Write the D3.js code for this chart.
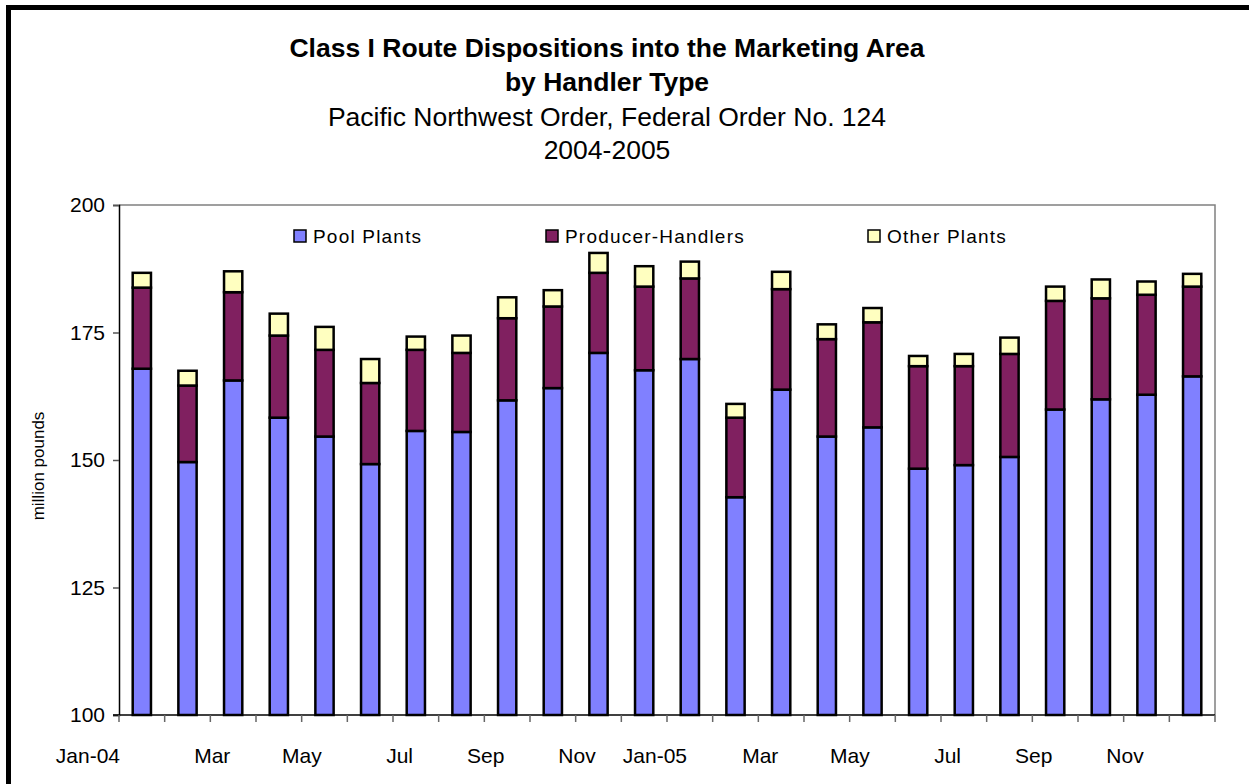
<!DOCTYPE html>
<html>
<head>
<meta charset="utf-8">
<script src="https://cdn.jsdelivr.net/npm/d3@7"></script>
<style>
  body { margin: 0; background: #fff; }
  text { font-family: "Liberation Sans", Arial, sans-serif; }
</style>
</head>
<body>
<script>
const months = ['Jan-04', 'Feb-04', 'Mar-04', 'Apr-04', 'May-04', 'Jun-04',
  'Jul-04', 'Aug-04', 'Sep-04', 'Oct-04', 'Nov-04', 'Dec-04',
  'Jan-05', 'Feb-05', 'Mar-05', 'Apr-05', 'May-05', 'Jun-05',
  'Jul-05', 'Aug-05', 'Sep-05', 'Oct-05', 'Nov-05', 'Dec-05']
const monthLabels = ['Jan-04', '', 'Mar', '', 'May', '', 'Jul', '', 'Sep', '', 'Nov', '',
  'Jan-05', '', 'Mar', '', 'May', '', 'Jul', '', 'Sep', '', 'Nov', '']
const poolPlants = [167.9, 149.6, 165.6, 158.3, 154.6, 149.2, 155.7, 155.5, 161.7, 164.1, 171.0, 167.6,
  169.8, 142.7, 163.8, 154.6, 156.4, 148.3, 149.0, 150.6, 159.9, 161.9, 162.8, 166.4]
const producerHandlers = [15.9, 15.0, 17.3, 16.1, 17.0, 15.9, 15.9, 15.5, 16.1, 16.0, 15.7, 16.4,
  15.8, 15.6, 19.7, 19.1, 20.6, 20.1, 19.4, 20.2, 21.3, 19.8, 19.6, 17.6]
const otherPlants = [2.9, 2.9, 4.1, 4.3, 4.5, 4.7, 2.6, 3.4, 4.1, 3.2, 3.9, 4.0,
  3.3, 2.7, 3.4, 2.9, 2.8, 2.0, 2.4, 3.2, 2.8, 3.7, 2.6, 2.5]
const seriesNames = ['Pool Plants', 'Producer-Handlers', 'Other Plants']
const yTicks = [100, 125, 150, 175, 200]

const colors = ['#8080ff', '#802060', '#ffffc0']
const W = 1249, H = 784
const plot = { left: 119, right: 1215, top: 205, bottom: 715 }

const svg = d3.select('body').append('svg')
  .attr('width', W)
  .attr('height', H)

// outer frame
svg.append('rect')
  .attr('x', 8.5).attr('y', 7.5)
  .attr('width', 1400).attr('height', 1000)
  .attr('fill', 'none')
  .attr('stroke', '#000')
  .attr('stroke-width', 5)

// titles
const titles = [
  { t: 'Class I Route Dispositions into the Marketing Area', y: 57, bold: true },
  { t: 'by Handler Type', y: 91, bold: true },
  { t: 'Pacific Northwest Order, Federal Order No. 124', y: 126, bold: false },
  { t: '2004-2005', y: 159, bold: false }
]
titles.forEach(d => {
  svg.append('text')
    .attr('x', 607).attr('y', d.y)
    .attr('text-anchor', 'middle')
    .attr('font-size', '26.5px')
    .attr('font-weight', d.bold ? 'bold' : 'normal')
    .text(d.t)
})

const data = months.map((m, i) => ({
  month: m,
  pool: poolPlants[i],
  prod: producerHandlers[i],
  other: otherPlants[i]
}))

const x = d3.scaleBand().domain(months).range([plot.left, plot.right]).paddingInner(0.6).paddingOuter(0.3)
const y = d3.scaleLinear().domain([100, 200]).range([plot.bottom, plot.top])
const step = x.step()

// plot frame (top + right grey)
svg.append('path')
  .attr('d', `M${plot.left},${plot.top}H${plot.right}V${plot.bottom}`)
  .attr('fill', 'none')
  .attr('stroke', '#808080')
  .attr('stroke-width', 1.5)

const stack = d3.stack().keys(['pool', 'prod', 'other'])
const stacked = stack(data)

const bars = svg.append('g').attr('id', 'bars')
stacked.forEach((s, k) => {
  bars.selectAll('.s' + k)
    .data(s)
    .enter()
    .append('rect')
    .attr('class', 's' + k)
    .attr('x', d => x(d.data.month))
    .attr('width', x.bandwidth())
    .attr('y', d => y(Math.max(d[1], 100)))
    .attr('height', d => y(Math.max(d[0], 100)) - y(Math.max(d[1], 100)))
    .attr('fill', colors[k])
    .attr('stroke', '#000')
    .attr('stroke-width', 2.5)
})

// y axis
const yAxis = svg.append('g')
  .attr('transform', `translate(${plot.left},0)`)
  .call(d3.axisLeft(y).tickValues(yTicks).tickSize(6).tickPadding(8))
yAxis.select('.domain').attr('stroke', '#000').attr('stroke-width', 1.5)
yAxis.selectAll('.tick line').attr('stroke', '#555').attr('stroke-width', 1.5)
yAxis.selectAll('.tick text').attr('font-size', '21px').attr('fill', '#000')
  .style('font-family', '"Liberation Sans", Arial, sans-serif')

// x axis: ticks at category boundaries
const xAxis = svg.append('g').attr('id', 'x-axis')
xAxis.append('line')
  .attr('x1', plot.left - 6).attr('x2', plot.right)
  .attr('y1', plot.bottom).attr('y2', plot.bottom)
  .attr('stroke', '#000').attr('stroke-width', 1.5)
d3.range(months.length + 1).forEach(i => {
  xAxis.append('line')
    .attr('x1', plot.left + i * step).attr('x2', plot.left + i * step)
    .attr('y1', plot.bottom).attr('y2', plot.bottom + 7)
    .attr('stroke', '#666').attr('stroke-width', 1.5)
})
monthLabels.forEach((lab, i) => {
  if (!lab) return
  const tx = plot.left + i * step
  svg.append('text')
    .attr('x', i === 0 ? tx + 1 : tx + 20)
    .attr('y', 763)
    .attr('text-anchor', 'end')
    .attr('font-size', '21px')
    .text(lab)
})

// y label
svg.append('text')
  .attr('transform', 'translate(44,466) rotate(-90)')
  .attr('text-anchor', 'middle')
  .attr('font-size', '17px')
  .text('million pounds')

// legend
const legendPos = [294, 546, 868]
const legend = svg.append('g').attr('id', 'legend')
seriesNames.forEach((n, k) => {
  legend.append('rect')
    .attr('x', legendPos[k]).attr('y', 230)
    .attr('width', 12).attr('height', 12)
    .attr('fill', colors[k])
    .attr('stroke', '#000').attr('stroke-width', 1.5)
  legend.append('text')
    .attr('x', legendPos[k] + 19).attr('y', 243)
    .attr('font-size', '19px')
    .attr('letter-spacing', '1.2px')
    .text(n)
})
</script>
</body>
</html>
